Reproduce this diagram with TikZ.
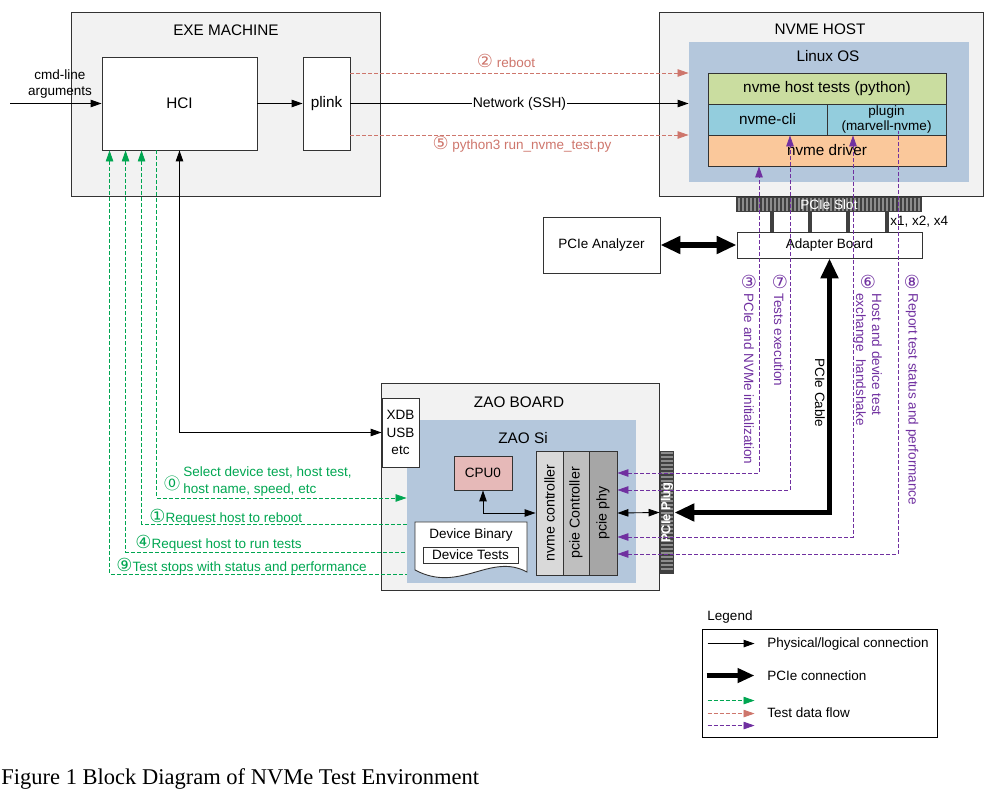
\documentclass[tikz,border=0pt]{standalone}
\usepackage{fontspec}
\setmainfont{Liberation Sans}
\newfontfamily\circfont{DejaVu Sans}
\newfontfamily\cjkcirc{Noto Sans CJK SC}
\newfontfamily\capfont{Liberation Serif}
\usepackage{tikz}
\usetikzlibrary{calc,arrows.meta}

\definecolor{boxgray}{RGB}{242,242,242}
\definecolor{siblue}{RGB}{180,199,220}
\definecolor{testgreen}{RGB}{202,221,160}
\definecolor{clicyan}{RGB}{147,205,221}
\definecolor{drvpeach}{RGB}{250,200,155}
\definecolor{cpupink}{RGB}{230,185,184}
\definecolor{flowgreen}{RGB}{0,166,81}
\definecolor{flowred}{RGB}{206,118,108}
\definecolor{flowpurple}{RGB}{112,48,160}

\newcommand{\cnum}[1]{{\circfont\fontsize{18}{16}\selectfont #1}}
\newcommand{\cnumzero}{{\cjkcirc\fontsize{16}{16}\selectfont ⓪}}

\begin{document}
\begin{tikzpicture}[x=1pt,y=-1pt,line width=0.9pt,font=\fontsize{13.5}{16}\selectfont,
  >={Triangle[length=11pt,width=7.5pt]},
  machine/.style={draw=black!80,fill=boxgray,inner sep=0pt},
  plainbox/.style={draw=black!80,fill=white,inner sep=0pt},
  chip/.style={fill=siblue,inner sep=0pt},
  layer/.style={draw=black!80,inner sep=0pt},
  big/.style={font=\fontsize{15.3}{18}\selectfont},
  gflow/.style={flowgreen,dash pattern=on 4pt off 2pt,line width=0.8pt},
  rflow/.style={flowred,dash pattern=on 4pt off 2pt,line width=0.8pt},
  pflow/.style={flowpurple,dash pattern=on 4pt off 2pt,line width=0.8pt},
  pcie/.style={line width=5.5pt,arrows={Triangle[length=20pt,width=17pt]-Triangle[length=20pt,width=17pt]}},
  gtext/.style={text=flowgreen,inner sep=1pt},
  rtext/.style={text=flowred,inner sep=1pt},
  ptext/.style={text=flowpurple,inner sep=1pt}]

\useasboundingbox (0,0) rectangle (997,791);

% exe machine
\node[machine,minimum width=309pt,minimum height=184pt] (exe) at (225.5,104) {};
\node[big] (exetitle) at (226,30) {EXE MACHINE};
\node[plainbox,big,minimum width=155pt,minimum height=93pt] (hci) at (179.5,103.5) {HCI};
\node[plainbox,big,minimum width=47pt,minimum height=93pt] (plink) at (326.5,103.5) {plink};
\coordinate (cmd) at (10,103.5);
\node[align=center] (cmdtext) at (60,84) {cmd-line\\arguments};

% nvme host
\node[machine,minimum width=324pt,minimum height=184pt] (host) at (821,104) {};
\node[big] (hosttitle) at (820,29) {NVME HOST};
\node[chip,minimum width=280pt,minimum height=140pt] (linux) at (829,112) {};
\node[big] (linuxtitle) at (828,56) {Linux OS};
\node[layer,big,fill=testgreen,minimum width=238pt,minimum height=31pt] (tests) at (827,88.5) {nvme host tests (python)};
\node[layer,big,fill=clicyan,minimum width=119pt,minimum height=31pt] (cli) at (767.5,119.5) {nvme-cli};
\node[layer,fill=clicyan,minimum width=119pt,minimum height=31pt,align=center,font=\fontsize{13.5}{15}\selectfont] (plugin) at (886.5,119.5) {plugin\\(marvell-nvme)};
\node[layer,big,fill=drvpeach,minimum width=238pt,minimum height=31pt] (driver) at (827,150.5) {nvme driver};

% slot and adapter
\node[fill=black!75,minimum width=186pt,minimum height=15pt,inner sep=0pt] (slot) at (829,204.5) {};
\foreach \x in {739,743,...,919}
  \draw[black!45,line width=1.2pt] (\x,198) -- (\x,211);
\node[text=white,inner sep=0pt] (slottext) at (829,204.5) {PCIe Slot};
\foreach \x in {772,810,848,887}
  \draw[black!75,line width=4.5pt] (\x,212) -- (\x,232);
\node[anchor=west,inner sep=1pt] (lanes) at (889,222) {x1, x2, x4};
\node[plainbox,minimum width=185pt,minimum height=26pt] (adapter) at (829.5,245) {Adapter Board};
\node[plainbox,minimum width=117pt,minimum height=56pt] (analyzer) at (601.5,245) {PCIe Analyzer};

% zao board
\node[machine,minimum width=278pt,minimum height=207pt] (zao) at (520,486.5) {};
\node[big] (zaotitle) at (519,402) {ZAO BOARD};
\node[chip,minimum width=229pt,minimum height=163pt] (zaosi) at (521.5,501.5) {};
\node[big] (zaosititle) at (523,438) {ZAO Si};
\node[plainbox,minimum width=37pt,minimum height=69pt,align=center,font=\fontsize{13.5}{17.5}\selectfont] (xdb) at (400.5,432.5) {XDB\\USB\\etc};
\node[layer,fill=cpupink,minimum width=58pt,minimum height=34pt] (cpu) at (483,473) {CPU0};
\node[layer,fill=black!15,minimum width=27pt,minimum height=124pt] (nvmectl) at (549.5,513) {};
\node[layer,fill=black!25,minimum width=26pt,minimum height=124pt] (pciectl) at (576,513) {};
\node[layer,fill=black!35,minimum width=28pt,minimum height=124pt] (phy) at (603,513) {};
\node[rotate=90,font=\fontsize{14.2}{16}\selectfont] (nvmectltext) at (nvmectl) {nvme controller};
\node[rotate=90,font=\fontsize{14.2}{16}\selectfont] (pciectltext) at (pciectl) {pcie Controller};
\node[rotate=90,font=\fontsize{14.2}{16}\selectfont] (phytext) at (phy) {pcie phy};
\draw[plainbox] (415,522) -- (527,522) -- (527,572) .. controls (490,552) and (460,594) .. (415,570) -- cycle;
\node (devbin) at (471,535) {Device Binary};
\node[plainbox,minimum width=95pt,minimum height=16pt] (devtests) at (470.5,555) {Device Tests};
\node[fill=black!75,minimum width=14pt,minimum height=123pt,inner sep=0pt] (plug) at (667,512.5) {};
\foreach \y in {453,457,...,572}
  \draw[black!45,line width=1.2pt] (661,\y) -- (673,\y);
\node[text=white,rotate=90,inner sep=0pt,font=\bfseries\fontsize{13}{16}\selectfont] (plugtext) at (667,512.5) {PCIe Plug};

% connections
\draw[->] (cmd) -- (hci.west);
\draw[->] (hci.east) -- (plink.west);
\draw[->] (plink.east) -- (plink.east -| linux.west) node[midway,fill=white,inner sep=1pt,font=\fontsize{14}{16}\selectfont] (ssh) {Network (SSH)};
\draw[<->] (hci.south) |- (xdb.west);
\draw[<->] (cpu.south) |- (nvmectl.west);
\draw[<->] (phy.east) -- (plug.west);
\draw[pcie] (analyzer.east) -- (adapter.west);
\draw[pcie] (plug.east) -| (adapter.south);
\node[rotate=-90] (cable) at (820,393) {PCIe Cable};

% test data flow
\draw[rflow,->] ([yshift=30.5pt]plink.east) -- ([yshift=39pt]linux.west);
\draw[rflow,->] ([yshift=-31.5pt]plink.east) -- ([yshift=-23pt]linux.west);
\node[rtext] (reboottext) at (506,61) {\cnum{②} reboot};
\node[rtext] (pytext) at (522,144) {\cnum{⑤} python3 run\_nvme\_test.py};

\draw[gflow,->] ([xshift=55pt]hci.south west) |- ([yshift=3.5pt]zaosi.west);
\draw[gflow,<-] ([xshift=40pt]hci.south west) |- ([yshift=-22.5pt]zaosi.west);
\draw[gflow,<-] ([xshift=24pt]hci.south west) |- ([yshift=-50.5pt]zaosi.west);
\draw[gflow,<-] ([xshift=8pt]hci.south west) |- ([yshift=-72.5pt]zaosi.west);
\node[gtext] (n0) at (172,483) {\cnumzero};
\node[gtext,anchor=west,align=left,font=\fontsize{13.5}{17}\selectfont] (t0) at (182,481.5) {Select device test, host test,\\host name, speed, etc};
\node[gtext,anchor=west] (t1) at (148,517) {\cnum{①}Request host to reboot};
\node[gtext,anchor=west] (t4) at (134,543) {\cnum{④}Request host to run tests};
\node[gtext,anchor=west] (t9) at (115,566) {\cnum{⑨}Test stops with status and performance};

\draw[pflow,<->] ([yshift=40pt]phy.east) -| ([xshift=-68pt]driver.south);
\draw[pflow,<->] ([yshift=23pt]phy.east) -| ([xshift=22.5pt]cli.south);
\draw[pflow,<->] ([yshift=-24pt]phy.east) -| ([xshift=-33.5pt]plugin.south);
\draw[pflow,<-] ([yshift=-41pt]phy.east) -| ([xshift=11.5pt,yshift=4pt]plugin.south);
\node[ptext] (n3) at (749,282) {\cnum{③}};
\node[ptext,rotate=-90,anchor=west] (t3) at (749,292) {PCIe and NVMe initialization};
\node[ptext] (n7) at (780,282) {\cnum{⑦}};
\node[ptext,rotate=-90,anchor=west] (t7) at (779,292) {Tests execution};
\node[ptext] (n6) at (868,282) {\cnum{⑥}};
\node[ptext,rotate=-90,anchor=west,align=left] (t6) at (867.5,292) {Host and device test\\exchange\ \ handshake};
\node[ptext] (n8) at (912,282) {\cnum{⑧}};
\node[ptext,rotate=-90,anchor=west] (t8) at (912,292) {Report test status and performance};

% legend
\node (legendtitle) at (730,617) {Legend};
\node[draw=black,minimum width=235pt,minimum height=108pt,inner sep=0pt] (legend) at (819.5,683) {};
\coordinate (lg1) at ($(legend.north west)+(6,15)$);
\coordinate (lg2) at ($(legend.north west)+(5,47)$);
\coordinate (lg3) at ($(legend.north west)+(6,72)$);
\coordinate (lg4) at ($(legend.north west)+(6,85)$);
\coordinate (lg5) at ($(legend.north west)+(6,97)$);
\draw[->] (lg1) -- ++(47,0);
\draw[line width=5pt,arrows={-Triangle[length=17pt,width=14pt]}] (lg2) -- ++(48,0);
\draw[gflow,->] (lg3) -- ++(47,0);
\draw[rflow,->] (lg4) -- ++(47,0);
\draw[pflow,->] (lg5) -- ++(47,0);
\node[anchor=west,inner sep=0pt] (lgt1) at (767,644) {Physical/logical connection};
\node[anchor=west,inner sep=0pt] (lgt2) at (767,676) {PCIe connection};
\node[anchor=west,inner sep=0pt] (lgt3) at (767,713) {Test data flow};

\node[anchor=west,inner sep=0pt,font=\capfont\fontsize{22.5}{26}\selectfont] (caption) at (1,779) {Figure 1 Block Diagram of NVMe Test Environment};

\end{tikzpicture}
\end{document}
